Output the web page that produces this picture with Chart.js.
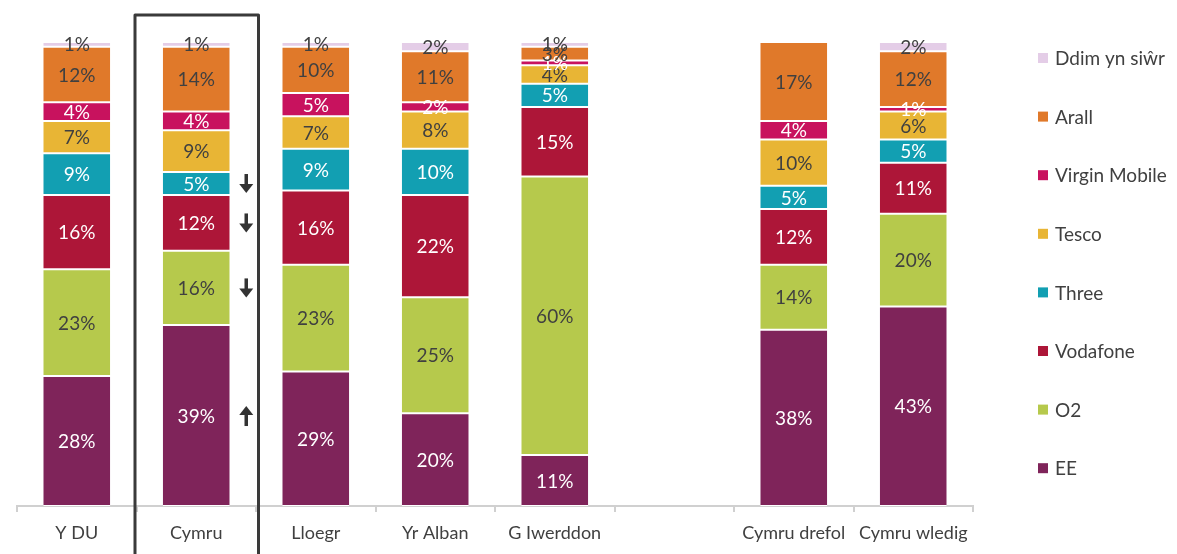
<!DOCTYPE html>
<html>
<head>
<meta charset="utf-8">
<script src="https://cdn.jsdelivr.net/npm/chart.js@4.4.0/dist/chart.umd.min.js"></script>
<style>
    html, body { margin: 0; padding: 0; background: #fff; }
    #wrap { width: 1177px; height: 554px; position: relative; }
</style>
</head>
<body>
<div id="wrap"><canvas id="chart"></canvas></div>
<script>
// categories (empty slot is the gap before the urban/rural bars)
const categories = ["Y DU", "Cymru", "Lloegr", "Yr Alban", "G Iwerddon", "", "Cymru drefol", "Cymru wledig"];

// share per provider, %
const ee       = [28, 39, 29, 20, 11, null, 38, 43];
const o2       = [23, 16, 23, 25, 60, null, 14, 20];
const vodafone = [16, 12, 16, 22, 15, null, 12, 11];
const three    = [9, 5, 9, 10, 5, null, 5, 5];
const tesco    = [7, 9, 7, 8, 4, null, 10, 6];
const virgin   = [4, 4, 5, 2, 1, null, 4, 1];
const arall    = [12, 14, 10, 11, 3, null, 17, 12];
const ddim     = [1, 1, 1, 2, 1, null, 0, 2];

// significance arrows on the Cymru bar (dataset order: EE, O2, Vodafone, Three, ...)
const cymruArrows = ["up", "down", "down", "down", null, null, null, null];

const TEXT_DARK = "#404040";
const FONT = "Lato";

const labelPlugin = {
    id: "segmentLabels",
    afterDatasetsDraw(chart) {
        const ctx = chart.ctx;
        ctx.save();
        ctx.font = `19px ${FONT}`;
        ctx.textAlign = "center";
        ctx.textBaseline = "middle";
        chart.data.datasets.forEach((ds, i) => {
            const meta = chart.getDatasetMeta(i);
            meta.data.forEach((bar, j) => {
                const v = ds.data[j];
                if (!v) return;
                ctx.fillStyle = ds.labelColor;
                ctx.fillText(v + "%", bar.x, (bar.y + bar.base) / 2 + 1);
            });
        });
        ctx.restore();
    }
};

function drawArrow(ctx, x, y, dir) {
    const h = 19, headW = 14, headH = 9, shaft = 3.5;
    const s = dir === "down" ? 1 : -1;
    const tip = y + s * h / 2;
    const tail = y - s * h / 2;
    const headBase = tip - s * headH;
    ctx.fillRect(x - shaft / 2, Math.min(tail, headBase), shaft, Math.abs(headBase - tail) + 1);
    ctx.beginPath();
    ctx.moveTo(x - headW / 2, headBase);
    ctx.lineTo(x + headW / 2, headBase);
    ctx.lineTo(x, tip);
    ctx.closePath();
    ctx.fill();
}

const extrasPlugin = {
    id: "extras",
    afterDraw(chart) {
        const ctx = chart.ctx;
        const xs = chart.scales.x;
        const idx = categories.indexOf("Cymru");
        const cx = xs.getPixelForValue(idx);
        const catW = xs.width / categories.length;

        // box around Cymru
        ctx.save();
        ctx.strokeStyle = "#3a3a3a";
        ctx.lineWidth = 3;
        ctx.lineJoin = "round";
        ctx.beginPath();
        ctx.moveTo(cx - catW / 2 - 1.5, chart.height + 5);
        ctx.lineTo(cx - catW / 2 - 1.5, 15);
        ctx.lineTo(cx + catW / 2 + 2.5, 15);
        ctx.lineTo(cx + catW / 2 + 2.5, chart.height + 5);
        ctx.stroke();

        // arrows
        ctx.fillStyle = "#333333";
        cymruArrows.forEach((dir, i) => {
            if (!dir) return;
            const bar = chart.getDatasetMeta(i).data[idx];
            drawArrow(ctx, cx + 50, (bar.y + bar.base) / 2, dir);
        });

        // legend (reverse of stack order)
        ctx.font = `19px ${FONT}`;
        ctx.textBaseline = "middle";
        ctx.textAlign = "left";
        const items = chart.data.datasets.slice().reverse();
        items.forEach((ds, k) => {
            const y = 58 + k * 58.6;
            ctx.fillStyle = ds.backgroundColor;
            ctx.fillRect(1038, y - 5, 10, 10);
            ctx.fillStyle = TEXT_DARK;
            ctx.fillText(ds.label, 1055, y + 1);
        });
        ctx.restore();
    }
};

const series = [
    { label: "EE", data: ee, color: "#7f245a", text: "#ffffff" },
    { label: "O2", data: o2, color: "#b6c94c", text: TEXT_DARK },
    { label: "Vodafone", data: vodafone, color: "#ad1638", text: "#ffffff" },
    { label: "Three", data: three, color: "#129fb2", text: "#ffffff" },
    { label: "Tesco", data: tesco, color: "#e8b535", text: TEXT_DARK },
    { label: "Virgin Mobile", data: virgin, color: "#c8125e", text: "#ffffff" },
    { label: "Arall", data: arall, color: "#e0792a", text: TEXT_DARK },
    { label: "Ddim yn siŵr", data: ddim, color: "#e4cde7", text: TEXT_DARK }
];

new Chart(document.getElementById("chart"), {
    type: "bar",
    data: {
        labels: categories,
        datasets: series.map(s => ({
            label: s.label,
            data: s.data,
            backgroundColor: s.color,
            borderColor: "#ffffff",
            borderWidth: { top: 1, bottom: 1, left: 0, right: 0 },
            borderSkipped: false,
            labelColor: s.text,
            categoryPercentage: 1,
            barPercentage: 0.56
        }))
    },
    options: {
        responsive: true,
        maintainAspectRatio: false,
        animation: false,
        layout: { padding: { left: 17, right: 204, top: 42, bottom: 0 } },
        plugins: {
            legend: { display: false },
            tooltip: { enabled: false }
        },
        scales: {
            x: {
                stacked: true,
                grid: {
                    offset: true,
                    drawOnChartArea: false,
                    drawTicks: true,
                    tickLength: 6,
                    color: "#d0d0d0",
                    lineWidth: 2
                },
                border: { display: true, color: "#d0d0d0", width: 2 },
                ticks: {
                    color: TEXT_DARK,
                    font: { family: FONT, size: 18 },
                    padding: 10,
                    maxRotation: 0,
                    autoSkip: false
                },
                afterFit(scale) { scale.height = 48; }
            },
            y: {
                stacked: true,
                display: false,
                min: 0,
                max: 100
            }
        }
    },
    plugins: [labelPlugin, extrasPlugin]
});
</script>
</body>
</html>
